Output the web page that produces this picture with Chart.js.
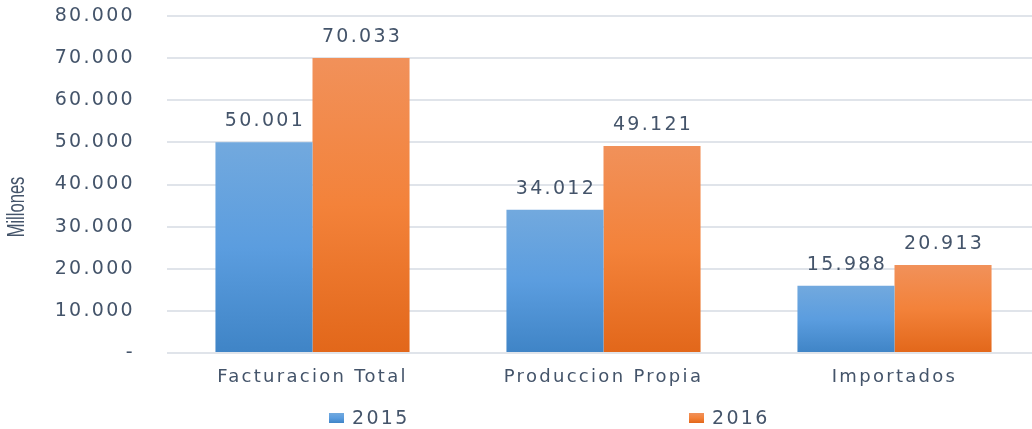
<!DOCTYPE html>
<html>
<head>
<meta charset="utf-8">
<script src="https://cdn.jsdelivr.net/npm/chart.js@4.4.1/dist/chart.umd.min.js"></script>
<style>
  html, body { margin: 0; padding: 0; background: #fff; overflow: hidden; }
</style>
</head>
<body>
<canvas id="ventasChart" width="1040" height="429"></canvas>
<script>
// Data
const categories = ['Facturacion Total', 'Produccion Propia', 'Importados'];
const seriesNames = ['2015', '2016'];
const values2015 = [50001, 34012, 15988];
const values2016 = [70033, 49121, 20913];
const yMax = 80000;
const yStep = 10000;
const axisTitle = 'Millones';

const textColor = '#44546a';
const blueStops = ['#72a9de', '#5b9ddf', '#3f84c6'];
const orangeStops = ['#f1915a', '#f3823a', '#e2671a'];
const spacing = '2.3px';
const numberFont = '19px "DejaVu Sans"';

// 80000 -> "80.000", 0 -> "-"
function fmt(v) {
    if (v === 0) return '-';
    return String(v).replace(/\B(?=(\d{3})+(?!\d))/g, '.');
}

function fillGradient(ctx, stops, top, bottom) {
    const g = ctx.createLinearGradient(0, top, 0, bottom);
    g.addColorStop(0, stops[0]);
    g.addColorStop(0.5, stops[1]);
    g.addColorStop(1, stops[2]);
    return g;
}

function barGradient(stops) {
    return function(context) {
        const chart = context.chart;
        if (!chart.chartArea || context.type !== 'data' || !chart.scales.y) return stops[1];
        const y = chart.scales.y;
        return fillGradient(chart.ctx, stops, y.getPixelForValue(context.raw), y.getPixelForValue(0));
    };
}

// wide text for all canvas labels
const letterSpacing = {
    id: 'letterSpacing',
    beforeLayout(chart) { chart.ctx.letterSpacing = spacing; },
    beforeDraw(chart) { chart.ctx.letterSpacing = spacing; }
};

// value labels above each bar
const valueLabels = {
    id: 'valueLabels',
    afterDatasetsDraw(chart) {
        const ctx = chart.ctx;
        ctx.save();
        ctx.letterSpacing = spacing;
        ctx.font = numberFont;
        ctx.fillStyle = textColor;
        ctx.textAlign = 'center';
        ctx.textBaseline = 'middle';
        chart.data.datasets.forEach(function(ds, i) {
            chart.getDatasetMeta(i).data.forEach(function(bar, j) {
                ctx.fillText(fmt(ds.data[j]), bar.x + 1, bar.y - 21);
            });
        });
        ctx.restore();
    }
};

// rotated axis title in a condensed look, plus a widely spread legend row
const extras = {
    id: 'extras',
    afterDraw(chart) {
        const ctx = chart.ctx;
        const area = chart.chartArea;
        ctx.save();
        ctx.letterSpacing = '0px';
        ctx.fillStyle = textColor;
        ctx.font = '23px "Liberation Sans", sans-serif';
        ctx.textAlign = 'center';
        ctx.textBaseline = 'middle';
        ctx.translate(18, 207);
        ctx.rotate(-Math.PI / 2);
        ctx.scale(0.72, 1);
        ctx.fillText(axisTitle, 0, 0);
        ctx.restore();

        ctx.save();
        ctx.letterSpacing = spacing;
        ctx.font = numberFont;
        ctx.textBaseline = 'middle';
        ctx.textAlign = 'left';
        const ly = 418;
        chart.data.datasets.forEach(function(ds, i) {
            const x = area.left + 162 + i * 360;
            ctx.fillStyle = fillGradient(ctx, ds.stops, ly - 5, ly + 5);
            ctx.fillRect(x, ly - 5, 15, 10);
            ctx.fillStyle = textColor;
            ctx.fillText(ds.label, x + 23, ly + 1);
        });
        ctx.restore();
    }
};

new Chart(document.getElementById('ventasChart'), {
    type: 'bar',
    data: {
        labels: categories,
        datasets: [
            {
                label: seriesNames[0],
                data: values2015,
                stops: blueStops,
                backgroundColor: barGradient(blueStops),
                categoryPercentage: 0.667,
                barPercentage: 1
            },
            {
                label: seriesNames[1],
                data: values2016,
                stops: orangeStops,
                backgroundColor: barGradient(orangeStops),
                categoryPercentage: 0.667,
                barPercentage: 1
            }
        ]
    },
    options: {
        responsive: false,
        animation: false,
        layout: {
            autoPadding: false,
            padding: { top: 16, left: 47, right: 0, bottom: 40 }
        },
        scales: {
            x: {
                grid: { display: false, drawTicks: false },
                border: { display: false },
                ticks: {
                    color: textColor,
                    padding: 14,
                    maxRotation: 0,
                    font: { family: 'DejaVu Sans', size: 18 }
                },
                afterFit: function(scale) { scale.height = 36; }
            },
            y: {
                min: 0,
                max: yMax,
                grid: { color: '#e0e4ea', lineWidth: 2, drawTicks: false },
                border: { display: false },
                ticks: {
                    stepSize: yStep,
                    color: textColor,
                    padding: 32,
                    font: { family: 'DejaVu Sans', size: 19 },
                    callback: function(value) { return fmt(value); }
                },
                afterFit: function(scale) {
                    scale.width = 120;
                    scale.paddingTop = 0;
                    scale.paddingBottom = 0;
                }
            }
        },
        plugins: {
            legend: { display: false },
            tooltip: { enabled: false }
        }
    },
    plugins: [letterSpacing, valueLabels, extras]
});
</script>
</body>
</html>
